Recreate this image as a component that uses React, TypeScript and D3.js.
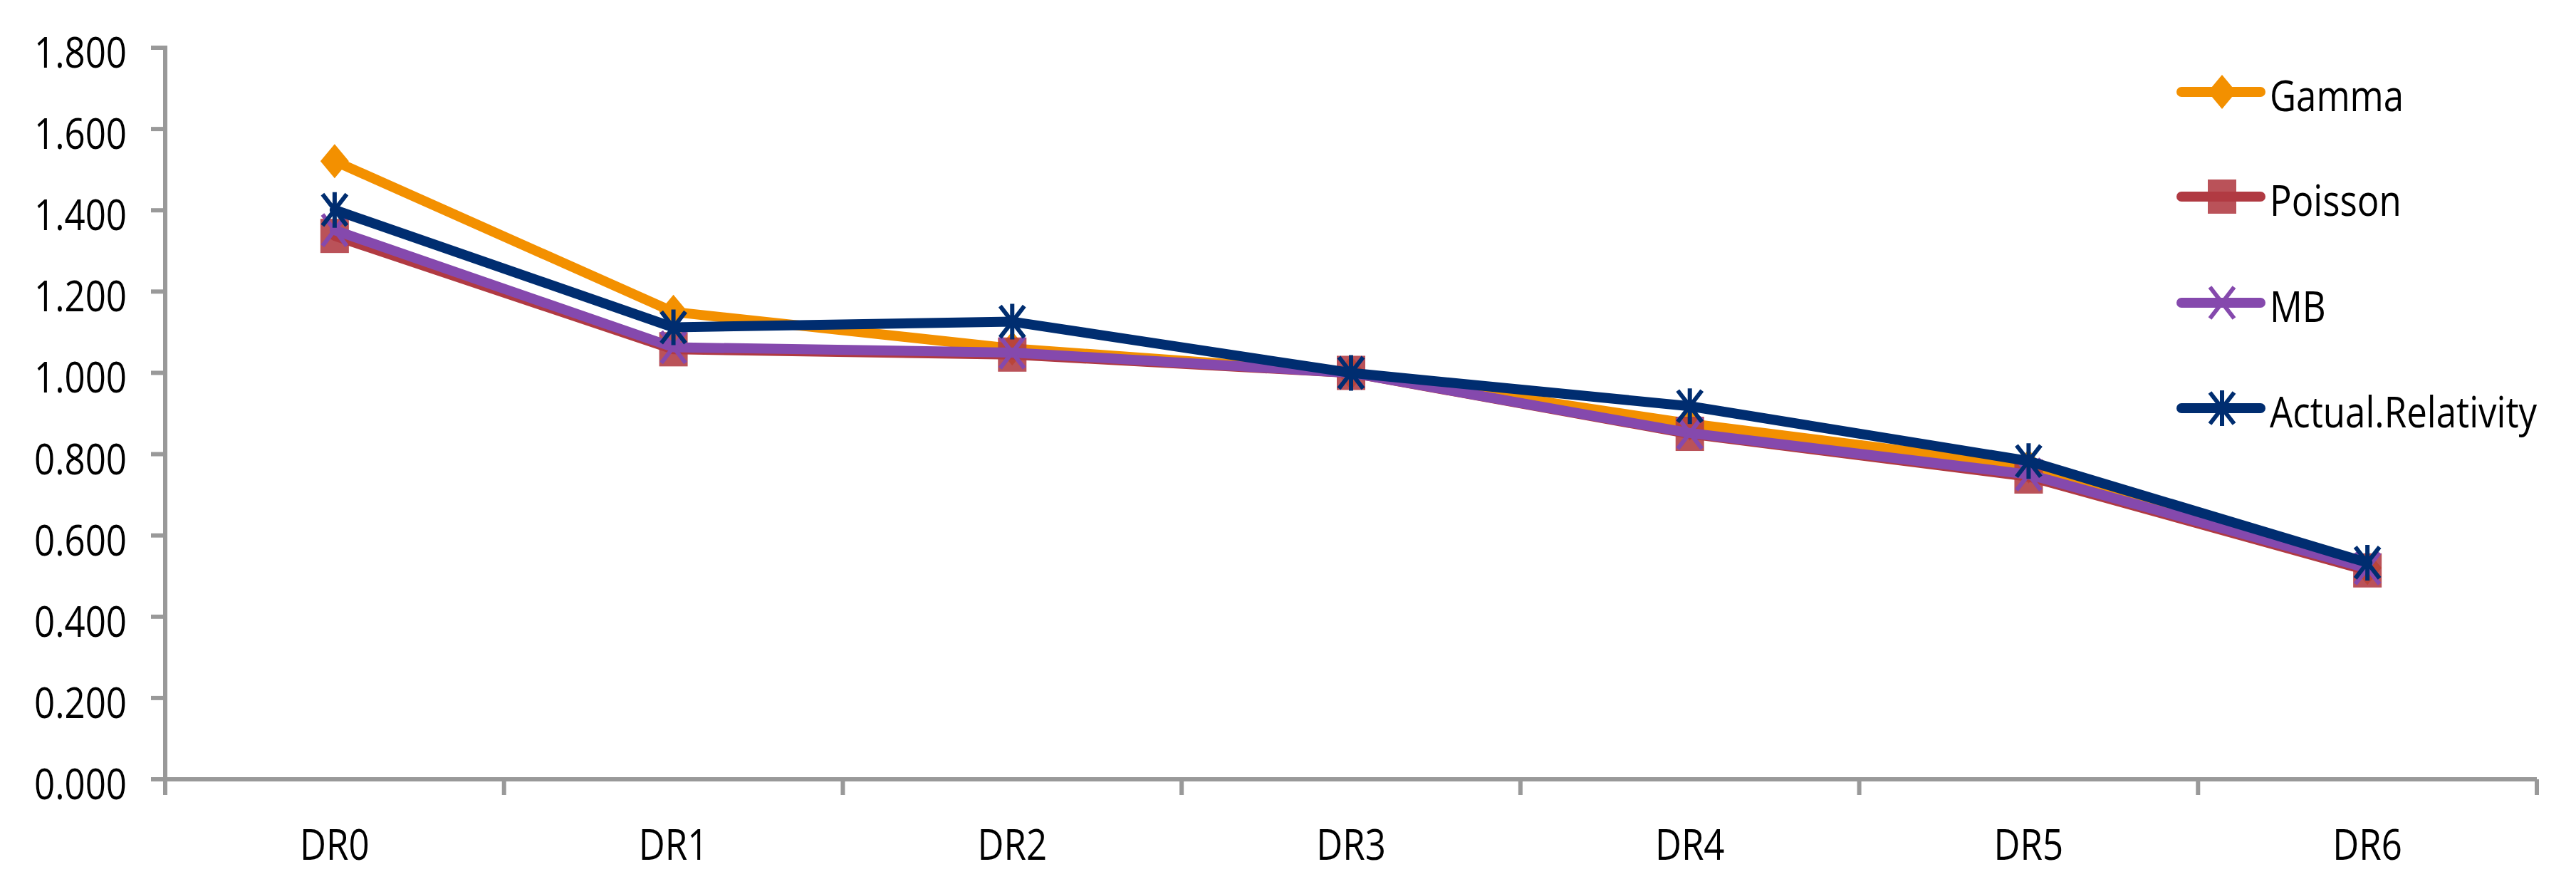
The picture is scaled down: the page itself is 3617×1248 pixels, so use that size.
import React from "react"
import { scaleBand, scaleLinear, line, format } from "d3"

const categories = ["DR0", "DR1", "DR2", "DR3", "DR4", "DR5", "DR6"]
const gamma = [1.521, 1.15, 1.06, 1.0, 0.875, 0.77, 0.52]
const poisson = [1.337, 1.058, 1.045, 1.0, 0.85, 0.745, 0.514]
const mb = [1.351, 1.063, 1.05, 1.0, 0.852, 0.75, 0.519]
const actual = [1.401, 1.112, 1.126, 1.0, 0.918, 0.783, 0.533]
const yTicks = [0, 0.2, 0.4, 0.6, 0.8, 1.0, 1.2, 1.4, 1.6, 1.8]

type Marker = "diamond" | "square" | "x" | "star"

const series = [
  { name: "Gamma", values: gamma, color: "#F39000", marker: "diamond" as Marker },
  { name: "Poisson", values: poisson, color: "#B03A42", marker: "square" as Marker },
  { name: "MB", values: mb, color: "#8549AD", marker: "x" as Marker },
  { name: "Actual.Relativity", values: actual, color: "#002D70", marker: "star" as Marker },
]

const W = 3617
const H = 1248
const margin = { top: 67, right: 55, bottom: 154, left: 232 }
const plotRight = 3562
const font = "'Open Sans', 'Noto Sans', sans-serif"
const axisColor = "#999999"
const squeeze = 0.85

const MarkerShape = ({ type, color }: { type: Marker; color: string }) => {
  if (type === "diamond") return <path d="M0,-24L20,0L0,24L-20,0Z" fill={color} />
  if (type === "square")
    return <rect x={-20} y={-24} width={40} height={48} fill={color} opacity={0.88} />
  if (type === "x")
    return (
      <path d="M-17,-22L17,22M17,-22L-17,22" stroke={color} strokeWidth={6} fill="none" />
    )
  return (
    <path
      d="M-17,-22L17,22M17,-22L-17,22M0,-25L0,25"
      stroke={color}
      strokeWidth={6}
      fill="none"
    />
  )
}

const Label = ({
  x,
  y,
  anchor,
  children,
}: {
  x: number
  y: number
  anchor: "start" | "middle" | "end"
  children: React.ReactNode
}) => (
  <text
    transform={`translate(${x},${y}) scale(${squeeze},1)`}
    textAnchor={anchor}
    fontSize={60}
    fontFamily={font}
    fill="#000"
  >
    {children}
  </text>
)

const App = () => {
  // scales
  const xScale = scaleBand<string>().domain(categories).range([margin.left, plotRight]).padding(0)
  const yScale = scaleLinear().domain([0, 1.8]).range([H - margin.bottom, margin.top])
  const cx = (c: string) => (xScale(c) ?? 0) + xScale.bandwidth() / 2
  const bottom = yScale(0)
  const fmt = format(".3f")

  const lineGen = line<number>()
    .x((_, i) => cx(categories[i]))
    .y((d) => yScale(d))

  const edges = [...categories.map((c) => xScale(c) ?? 0), plotRight]

  // legend rows
  const legendY = [129, 276, 425, 573]

  return (
    <svg
      width={W}
      height={H}
      style={{ position: "absolute", left: 0, top: 0, background: "#fff" }}
    >
      {/* y axis */}
      <line x1={margin.left} x2={margin.left} y1={margin.top - 3} y2={bottom} stroke={axisColor} strokeWidth={6} />
      {yTicks.map((t) => (
        <g key={t}>
          <line x1={margin.left - 20} x2={margin.left} y1={yScale(t)} y2={yScale(t)} stroke={axisColor} strokeWidth={6} />
          <Label x={178} y={yScale(t) + 28} anchor="end">
            {fmt(t)}
          </Label>
        </g>
      ))}

      {/* x axis */}
      <line x1={margin.left - 20} x2={plotRight} y1={bottom} y2={bottom} stroke={axisColor} strokeWidth={6} />
      {edges.map((e, i) => (
        <line key={i} x1={e} x2={e} y1={bottom} y2={bottom + 22} stroke={axisColor} strokeWidth={6} />
      ))}
      {categories.map((c) => (
        <Label key={c} x={cx(c)} y={1207} anchor="middle">
          {c}
        </Label>
      ))}

      {/* series */}
      {series.map((s) => (
        <g key={s.name}>
          <path
            d={lineGen(s.values) ?? ""}
            fill="none"
            stroke={s.color}
            strokeWidth={14}
            strokeLinejoin="round"
            strokeLinecap="round"
          />
          {s.values.map((v, i) => (
            <g key={i} transform={`translate(${cx(categories[i])},${yScale(v)})`}>
              <MarkerShape type={s.marker} color={s.color} />
            </g>
          ))}
        </g>
      ))}

      {/* legend */}
      {series.map((s, i) => (
        <g key={s.name}>
          <line x1={3063} x2={3174} y1={legendY[i]} y2={legendY[i]} stroke={s.color} strokeWidth={14} strokeLinecap="round" />
          <g transform={`translate(3120,${legendY[i]})`}>
            <MarkerShape type={s.marker} color={s.color} />
          </g>
          <Label x={3187} y={legendY[i] + 27} anchor="start">
            {s.name}
          </Label>
        </g>
      ))}
    </svg>
  )
}

export default App
